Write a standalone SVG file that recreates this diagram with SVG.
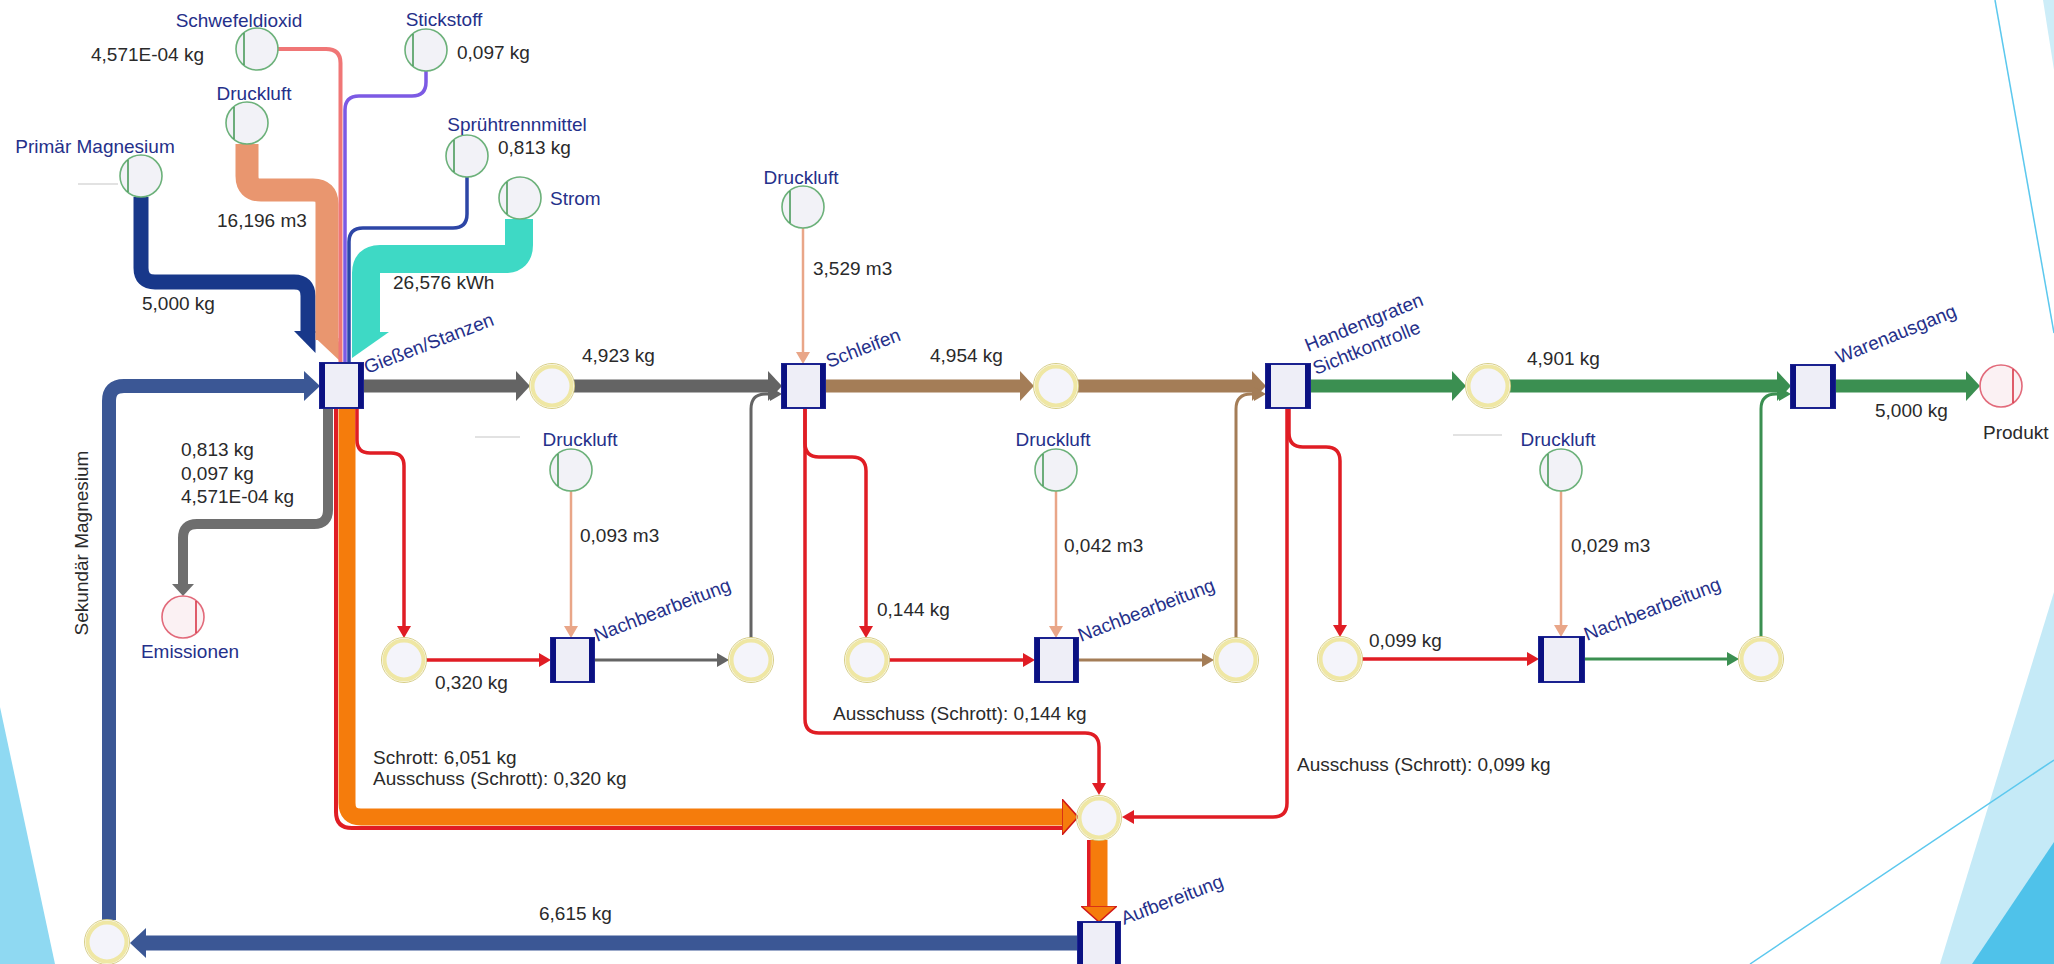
<svg xmlns="http://www.w3.org/2000/svg" width="2054" height="964" viewBox="0 0 2054 964">
<defs>
<style>
.lbl{font-family:"Liberation Sans",Arial,sans-serif;font-size:19px;fill:#25308a}
.num{font-family:"Liberation Sans",Arial,sans-serif;font-size:19px;fill:#2a2a2a}
.mid{text-anchor:middle}
.end{text-anchor:end}
.bf{fill:#eeeef7;stroke:#1b2290;stroke-width:2}
.bb{fill:#0b1182}
.yc{fill:#f4f4fa;stroke:#efe7a4;stroke-width:4}
.yo{fill:none;stroke:#d6cd86;stroke-width:1}
.gc{fill:#f2f2f7;stroke:#6cb17a;stroke-width:1.6}
.gl{stroke:#4b9b5c;stroke-width:1.6}
.rc{fill:#fbf1f3;stroke:#e26a7a;stroke-width:1.6}
.rl{stroke:#d93848;stroke-width:1.6}
.c{fill:none;stroke-linejoin:round}
.gray{stroke:#646464}
.brown{stroke:#a47d57}
.green{stroke:#3b8f51}
.red{stroke:#e01d24}
.sal{stroke:#e9a688}
.orange{stroke:#f57c0c}
.sek{stroke:#3b5795}
.faint{stroke:#d9d9d9;stroke-width:1.5}
.deco{stroke:#5cc8ee;stroke-width:1.5;fill:none}
</style>
<marker id="tGray" viewBox="0 0 14 30" refX="0" refY="15" markerWidth="14" markerHeight="30" markerUnits="userSpaceOnUse" orient="auto"><path d="M0,0 L14,15 L0,30 Z" fill="#646464"/></marker>
<marker id="tBrown" viewBox="0 0 14 30" refX="0" refY="15" markerWidth="14" markerHeight="30" markerUnits="userSpaceOnUse" orient="auto"><path d="M0,0 L14,15 L0,30 Z" fill="#a47d57"/></marker>
<marker id="tGreen" viewBox="0 0 14 30" refX="0" refY="15" markerWidth="14" markerHeight="30" markerUnits="userSpaceOnUse" orient="auto"><path d="M0,0 L14,15 L0,30 Z" fill="#3b8f51"/></marker>
<marker id="tSek" viewBox="0 0 16 30" refX="0" refY="15" markerWidth="16" markerHeight="30" markerUnits="userSpaceOnUse" orient="auto"><path d="M0,0 L16,15 L0,30 Z" fill="#3b5795"/></marker>
<marker id="tOrange" viewBox="0 0 16 36" refX="0" refY="18" markerWidth="16" markerHeight="36" markerUnits="userSpaceOnUse" orient="auto"><path d="M0,0 L16,18 L0,36 Z" fill="#f57c0c" stroke="#d01818" stroke-width="1.5"/></marker>
<marker id="sRed" viewBox="0 0 12 14" refX="0" refY="7" markerWidth="12" markerHeight="14" markerUnits="userSpaceOnUse" orient="auto"><path d="M0,0 L12,7 L0,14 Z" fill="#e01d24"/></marker>
<marker id="sGray" viewBox="0 0 12 14" refX="0" refY="7" markerWidth="12" markerHeight="14" markerUnits="userSpaceOnUse" orient="auto"><path d="M0,0 L12,7 L0,14 Z" fill="#646464"/></marker>
<marker id="sBrown" viewBox="0 0 12 14" refX="0" refY="7" markerWidth="12" markerHeight="14" markerUnits="userSpaceOnUse" orient="auto"><path d="M0,0 L12,7 L0,14 Z" fill="#a47d57"/></marker>
<marker id="sGreen" viewBox="0 0 12 14" refX="0" refY="7" markerWidth="12" markerHeight="14" markerUnits="userSpaceOnUse" orient="auto"><path d="M0,0 L12,7 L0,14 Z" fill="#3b8f51"/></marker>
<marker id="sSal" viewBox="0 0 12 14" refX="0" refY="7" markerWidth="12" markerHeight="14" markerUnits="userSpaceOnUse" orient="auto"><path d="M0,0 L12,7 L0,14 Z" fill="#e9a688"/></marker>
<marker id="sEm" viewBox="0 0 12 22" refX="0" refY="11" markerWidth="12" markerHeight="22" markerUnits="userSpaceOnUse" orient="auto"><path d="M0,0 L12,11 L0,22 Z" fill="#6e6e6e"/></marker>
</defs>

<g id="background">
<rect x="0" y="0" width="2054" height="964" fill="#ffffff"/>
<polygon points="0,707 55,964 0,964" fill="#8fd9f2"/>
<polygon points="2043,0 2054,0 2054,70" fill="#cdedf8"/>
<line class="deco" x1="1995" y1="0" x2="2054" y2="333"/>
<polygon points="2054,592 2054,964 1940,964" fill="#c5eaf7"/>
<polygon points="2054,842 2054,964 1972,964" fill="#4fc2ea"/>
<line class="deco" x1="2054" y1="760" x2="1750" y2="964"/>
<line class="faint" x1="78" y1="184" x2="118" y2="184"/>
<line class="faint" x1="475" y1="437" x2="520" y2="437"/>
<line class="faint" x1="1453" y1="435" x2="1502" y2="435"/>
</g>

<g id="connectors">
<path class="c" d="M141,197 V268 Q141,282 155,282 H294 Q308,282 308,296 V333" stroke="#18388a" stroke-width="15"/>
<polygon points="294,331 315.5,331 315.5,353" fill="#18388a"/>
<path class="c" d="M247,144 V176 Q247,190 261,190 H313 Q327,190 327,204 V340" stroke="#e9966f" stroke-width="23"/>
<polygon points="315.5,338 338.5,338 341,362" fill="#e9966f"/>
<path class="c" d="M278,49 H326 Q340.5,49 340.5,63 V362" stroke="#f07676" stroke-width="4"/>
<path class="c" d="M426,71 V82 Q426,96 412,96 H359 Q345,96 345,110 V362" stroke="#7c5ae4" stroke-width="3.5"/>
<path class="c" d="M467,177 V214 Q467,228 453,228 H363 Q349,228 349,242 V362" stroke="#2d46a6" stroke-width="3.5"/>
<path class="c" d="M519,219 V245 Q519,259 505,259 H380 Q366,259 366,273 V334" stroke="#3ed9c5" stroke-width="28"/>
<polygon points="352,332 389,332 352,358" fill="#3ed9c5"/>
<path class="c sek" d="M109,920 V401 Q109,386 124,386 H304" stroke-width="14" marker-end="url(#tSek)"/>
<path class="c sek" d="M1078,943 H146" stroke-width="15" marker-end="url(#tSek)"/>
<path class="c gray" d="M363,386 H516" stroke-width="13" marker-end="url(#tGray)"/>
<path class="c gray" d="M574,386 H768" stroke-width="13" marker-end="url(#tGray)"/>
<path class="c brown" d="M825,386 H1020" stroke-width="13" marker-end="url(#tBrown)"/>
<path class="c brown" d="M1078,386 H1252" stroke-width="13" marker-end="url(#tBrown)"/>
<path class="c green" d="M1310,386 H1452" stroke-width="13" marker-end="url(#tGreen)"/>
<path class="c green" d="M1510,386 H1777" stroke-width="13" marker-end="url(#tGreen)"/>
<path class="c green" d="M1835,386 H1966" stroke-width="13" marker-end="url(#tGreen)"/>
<path class="c" d="M328,408 V510 Q328,524 314,524 H197 Q183,524 183,538 V584" stroke="#6e6e6e" stroke-width="10" marker-end="url(#sEm)"/>
<path class="c red" d="M336,408 V812 Q336,828 352,828 H1066" stroke-width="4"/>
<path class="c orange" d="M347,408 V803 Q347,817 361,817 H1062" stroke-width="17" marker-end="url(#tOrange)"/>
<path class="c red" d="M1089,840 V910" stroke-width="4"/>
<path class="c orange" d="M1099,840 V906" stroke-width="17" marker-end="url(#tOrange)"/>
<path class="c red" d="M357,408 V440 Q357,453 370,453 H391 Q404,453 404,466 V626" stroke-width="3.5" marker-end="url(#sRed)"/>
<path class="c red" d="M426,660 H539" stroke-width="3.5" marker-end="url(#sRed)"/>
<path class="c sal" d="M571,491 V626" stroke-width="2.5" marker-end="url(#sSal)"/>
<path class="c gray" d="M594,660 H717" stroke-width="3" marker-end="url(#sGray)"/>
<path class="c gray" d="M751,638 V409 Q751,394 766,394 H770" stroke-width="3" marker-end="url(#sGray)"/>
<path class="c sal" d="M803,228 V352" stroke-width="2.5" marker-end="url(#sSal)"/>
<path class="c red" d="M805,408 V719 Q805,733 819,733 H1085 Q1099,733 1099,747 V783" stroke-width="3.5" marker-end="url(#sRed)"/>
<path class="c red" d="M805,408 V443 Q805,457 819,457 H852 Q866,457 866,471 V626" stroke-width="3.5" marker-end="url(#sRed)"/>
<path class="c red" d="M889,660 H1023" stroke-width="3.5" marker-end="url(#sRed)"/>
<path class="c sal" d="M1056,491 V626" stroke-width="2.5" marker-end="url(#sSal)"/>
<path class="c brown" d="M1078,660 H1202" stroke-width="3" marker-end="url(#sBrown)"/>
<path class="c brown" d="M1236,638 V409 Q1236,394 1251,394 H1254" stroke-width="3" marker-end="url(#sBrown)"/>
<path class="c red" d="M1287,408 V803 Q1287,817 1273,817 H1134" stroke-width="3.5" marker-end="url(#sRed)"/>
<path class="c red" d="M1289,408 V433 Q1289,447 1303,447 H1326 Q1340,447 1340,461 V625" stroke-width="3.5" marker-end="url(#sRed)"/>
<path class="c red" d="M1362,659 H1527" stroke-width="3.5" marker-end="url(#sRed)"/>
<path class="c sal" d="M1561,491 V625" stroke-width="2.5" marker-end="url(#sSal)"/>
<path class="c green" d="M1584,659 H1727" stroke-width="3" marker-end="url(#sGreen)"/>
<path class="c green" d="M1761,637 V409 Q1761,394 1776,394 H1779" stroke-width="3" marker-end="url(#sGreen)"/>
</g>

<g id="edge-labels">
<text class="num end" x="204" y="61">4,571E-04 kg</text>
<text class="num" x="457" y="59">0,097 kg</text>
<text class="num" x="498" y="154">0,813 kg</text>
<text class="num" x="217" y="227">16,196 m3</text>
<text class="num" x="393" y="289">26,576 kWh</text>
<text class="num" x="142" y="310">5,000 kg</text>
<text class="num" x="582" y="362">4,923 kg</text>
<text class="num" x="813" y="275">3,529 m3</text>
<text class="num" x="930" y="362">4,954 kg</text>
<text class="num" x="1527" y="365">4,901 kg</text>
<text class="num" x="1875" y="417">5,000 kg</text>
<text class="num" x="181" y="456">0,813 kg</text>
<text class="num" x="181" y="480">0,097 kg</text>
<text class="num" x="181" y="503">4,571E-04 kg</text>
<text class="num" x="580" y="542">0,093 m3</text>
<text class="num" x="1064" y="552">0,042 m3</text>
<text class="num" x="1571" y="552">0,029 m3</text>
<text class="num" x="435" y="689">0,320 kg</text>
<text class="num" x="877" y="616">0,144 kg</text>
<text class="num" x="1369" y="647">0,099 kg</text>
<text class="num" x="833" y="720">Ausschuss (Schrott): 0,144 kg</text>
<text class="num" x="373" y="764">Schrott: 6,051 kg</text>
<text class="num" x="373" y="785">Ausschuss (Schrott): 0,320 kg</text>
<text class="num" x="1297" y="771">Ausschuss (Schrott): 0,099 kg</text>
<text class="num" x="539" y="920">6,615 kg</text>
<text class="num mid" transform="translate(88,543) rotate(-90)">Sekundär Magnesium</text>
</g>

<g id="n-schwefeldioxid"><circle class="gc" cx="257" cy="49" r="21"/><line class="gl" x1="244" y1="33" x2="244" y2="65"/><text class="lbl mid" x="239" y="27">Schwefeldioxid</text></g>
<g id="n-stickstoff"><circle class="gc" cx="426" cy="50" r="21"/><line class="gl" x1="413" y1="34" x2="413" y2="66"/><text class="lbl mid" x="444" y="26">Stickstoff</text></g>
<g id="n-druckluft0"><circle class="gc" cx="247" cy="123" r="21"/><line class="gl" x1="234" y1="107" x2="234" y2="139"/><text class="lbl mid" x="254" y="100">Druckluft</text></g>
<g id="n-spruehtrennmittel"><circle class="gc" cx="467" cy="156" r="21"/><line class="gl" x1="454" y1="140" x2="454" y2="172"/><text class="lbl mid" x="517" y="131">Sprühtrennmittel</text></g>
<g id="n-strom"><circle class="gc" cx="520" cy="198" r="21"/><line class="gl" x1="507" y1="182" x2="507" y2="214"/><text class="lbl" x="550" y="205">Strom</text></g>
<g id="n-primaer"><circle class="gc" cx="141" cy="176" r="21"/><line class="gl" x1="128" y1="160" x2="128" y2="192"/><text class="lbl mid" x="95" y="153">Primär Magnesium</text></g>
<g id="n-druckluft-s"><circle class="gc" cx="803" cy="207" r="21"/><line class="gl" x1="790" y1="191" x2="790" y2="223"/><text class="lbl mid" x="801" y="184">Druckluft</text></g>
<g id="n-druckluft1"><circle class="gc" cx="571" cy="470" r="21"/><line class="gl" x1="558" y1="454" x2="558" y2="486"/><text class="lbl mid" x="580" y="446">Druckluft</text></g>
<g id="n-druckluft2"><circle class="gc" cx="1056" cy="470" r="21"/><line class="gl" x1="1043" y1="454" x2="1043" y2="486"/><text class="lbl mid" x="1053" y="446">Druckluft</text></g>
<g id="n-druckluft3"><circle class="gc" cx="1561" cy="470" r="21"/><line class="gl" x1="1548" y1="454" x2="1548" y2="486"/><text class="lbl mid" x="1558" y="446">Druckluft</text></g>

<g id="n-emissionen"><circle class="rc" cx="183" cy="617" r="21"/><line class="rl" x1="196" y1="601" x2="196" y2="633"/><text class="lbl mid" x="190" y="658">Emissionen</text></g>
<g id="n-produkt"><circle class="rc" cx="2001" cy="386" r="21"/><line class="rl" x1="2013" y1="369" x2="2013" y2="403"/><text class="num" x="1983" y="439">Produkt</text></g>

<g id="n-giessen"><rect class="bf" x="320" y="363" width="43" height="45"/><rect class="bb" x="320" y="363" width="5" height="45"/><rect class="bb" x="358" y="363" width="5" height="45"/><text class="lbl" transform="rotate(-21 367 374)" x="367" y="374">Gießen/Stanzen</text></g>
<g id="n-schleifen"><rect class="bf" x="782" y="364" width="43" height="44"/><rect class="bb" x="782" y="364" width="5" height="44"/><rect class="bb" x="820" y="364" width="5" height="44"/><text class="lbl" transform="rotate(-21 829 368)" x="829" y="368">Schleifen</text></g>
<g id="n-handentgraten"><rect class="bf" x="1266" y="364" width="44" height="44"/><rect class="bb" x="1266" y="364" width="5" height="44"/><rect class="bb" x="1305" y="364" width="5" height="44"/><text class="lbl" transform="rotate(-22 1308 352)" x="1308" y="352">Handentgraten</text><text class="lbl" transform="rotate(-22 1316 375)" x="1316" y="375">Sichtkontrolle</text></g>
<g id="n-warenausgang"><rect class="bf" x="1791" y="365" width="44" height="43"/><rect class="bb" x="1791" y="365" width="5" height="43"/><rect class="bb" x="1830" y="365" width="5" height="43"/><text class="lbl" transform="rotate(-22 1839 364)" x="1839" y="364">Warenausgang</text></g>
<g id="n-nach1"><rect class="bf" x="551" y="638" width="43" height="44"/><rect class="bb" x="551" y="638" width="5" height="44"/><rect class="bb" x="589" y="638" width="5" height="44"/><text class="lbl" transform="rotate(-21 597 642)" x="597" y="642">Nachbearbeitung</text></g>
<g id="n-nach2"><rect class="bf" x="1035" y="638" width="43" height="44"/><rect class="bb" x="1035" y="638" width="5" height="44"/><rect class="bb" x="1073" y="638" width="5" height="44"/><text class="lbl" transform="rotate(-21 1081 642)" x="1081" y="642">Nachbearbeitung</text></g>
<g id="n-nach3"><rect class="bf" x="1539" y="637" width="45" height="45"/><rect class="bb" x="1539" y="637" width="5" height="45"/><rect class="bb" x="1579" y="637" width="5" height="45"/><text class="lbl" transform="rotate(-21 1587 641)" x="1587" y="641">Nachbearbeitung</text></g>
<g id="n-aufbereitung"><rect class="bf" x="1078" y="922" width="42" height="44"/><rect class="bb" x="1078" y="922" width="5" height="44"/><rect class="bb" x="1115" y="922" width="5" height="44"/><text class="lbl" transform="rotate(-21 1124 925)" x="1124" y="925">Aufbereitung</text></g>

<g id="n-p1"><circle class="yo" cx="552" cy="386" r="22.5"/><circle class="yc" cx="552" cy="386" r="19.5"/></g>
<g id="n-p2"><circle class="yo" cx="1056" cy="386" r="22.5"/><circle class="yc" cx="1056" cy="386" r="19.5"/></g>
<g id="n-p3"><circle class="yo" cx="1488" cy="386" r="22.5"/><circle class="yc" cx="1488" cy="386" r="19.5"/></g>
<g id="n-b1"><circle class="yo" cx="404" cy="660" r="22.5"/><circle class="yc" cx="404" cy="660" r="19.5"/></g>
<g id="n-b2"><circle class="yo" cx="751" cy="660" r="22.5"/><circle class="yc" cx="751" cy="660" r="19.5"/></g>
<g id="n-b3"><circle class="yo" cx="867" cy="660" r="22.5"/><circle class="yc" cx="867" cy="660" r="19.5"/></g>
<g id="n-b4"><circle class="yo" cx="1236" cy="660" r="22.5"/><circle class="yc" cx="1236" cy="660" r="19.5"/></g>
<g id="n-b5"><circle class="yo" cx="1340" cy="659" r="22.5"/><circle class="yc" cx="1340" cy="659" r="19.5"/></g>
<g id="n-b6"><circle class="yo" cx="1761" cy="659" r="22.5"/><circle class="yc" cx="1761" cy="659" r="19.5"/></g>
<g id="n-collect"><circle class="yo" cx="1099" cy="818" r="22.5"/><circle class="yc" cx="1099" cy="818" r="19.5"/></g>
<g id="n-sek"><circle class="yo" cx="107" cy="942" r="22.5"/><circle class="yc" cx="107" cy="942" r="19.5"/></g>
</svg>
